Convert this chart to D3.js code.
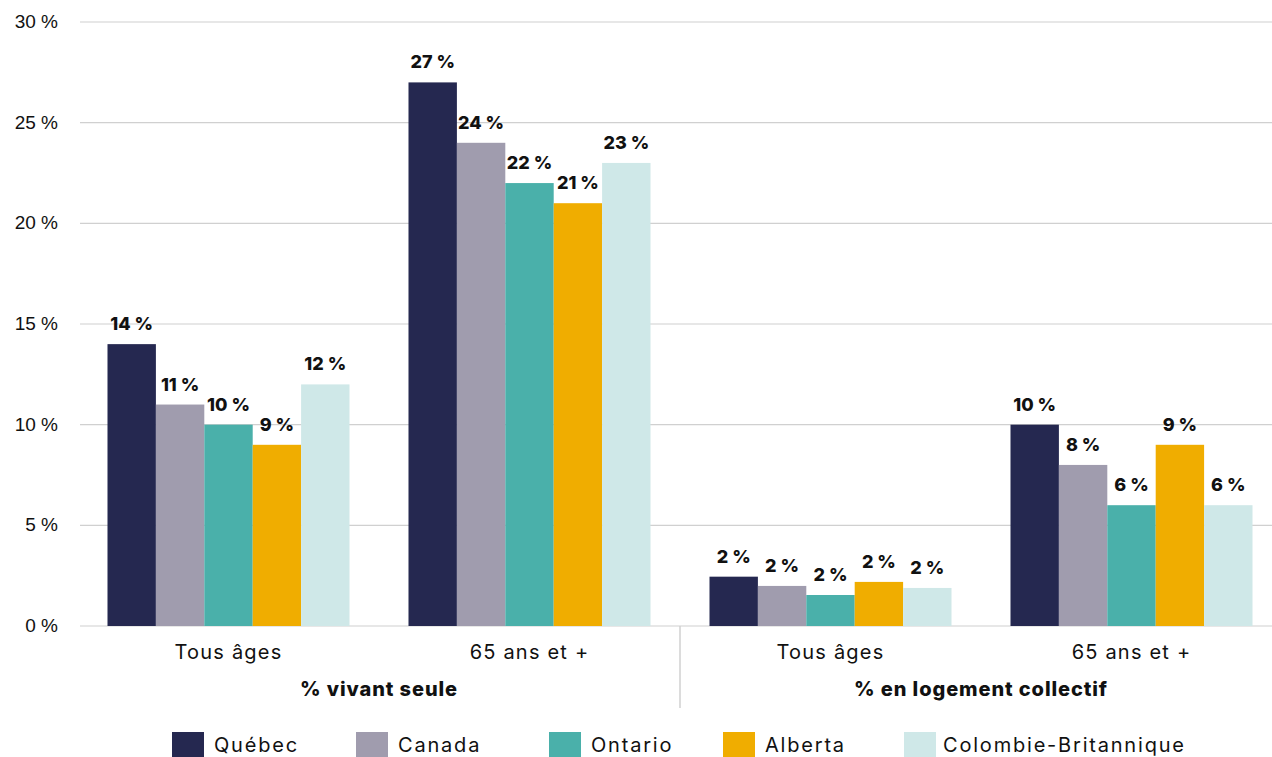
<!DOCTYPE html>
<html><head><meta charset="utf-8">
<script src="https://cdn.jsdelivr.net/npm/d3@7"></script>
<style>body{margin:0;background:#fff}svg{display:block;font-family:Inter,"Open Sans",sans-serif}</style>
</head><body><svg id="c" width="1272" height="757"></svg>
<script>
const groups = ["% vivant seule", "% en logement collectif"];
const categories = ["Tous âges", "65 ans et +", "Tous âges", "65 ans et +"];
const series = ["Québec", "Canada", "Ontario", "Alberta", "Colombie-Britannique"];
const colors = ["#252850", "#a09cae", "#4ab0aa", "#f0ad00", "#cfe8e8"];
const quebec = [14, 27, 2.45, 10];
const canada = [11, 24, 1.99, 8];
const ontario = [10, 22, 1.54, 6];
const alberta = [9, 21, 2.19, 9];
const colombieBritannique = [12, 23, 1.89, 6];
const labels = [["14 %","27 %","2 %","10 %"],["11 %","24 %","2 %","8 %"],["10 %","22 %","2 %","6 %"],["9 %","21 %","2 %","9 %"],["12 %","23 %","2 %","6 %"]];
const yTicks = [0, 5, 10, 15, 20, 25, 30];

const values = [quebec, canada, ontario, alberta, colombieBritannique];
const svg = d3.select("#c");
const y = d3.scaleLinear().domain([0, 30]).range([626, 22]);
const x0 = d3.scaleBand().domain(d3.range(categories.length)).range([78, 1282]).paddingInner(0.196).paddingOuter(0.098);
const x1 = d3.scaleBand().domain(d3.range(series.length)).range([0, x0.bandwidth()]);

// grid
svg.append("g").selectAll("line").data(yTicks).join("line")
  .attr("x1", 80).attr("x2", 1272).attr("y1", d => y(d)).attr("y2", d => y(d))
  .attr("stroke", "#d0d0d0").attr("stroke-width", 1.2);
svg.append("g").selectAll("text").data(yTicks).join("text")
  .attr("x", 58).attr("y", d => y(d) + 6).attr("text-anchor", "end")
  .attr("font-family", "'Liberation Sans', Arial, sans-serif")
  .attr("font-size", 19).attr("fill", "#111").text(d => d + " %");

// bars
series.forEach((s, si) => {
  const g = svg.append("g");
  g.selectAll("rect").data(values[si]).join("rect")
    .attr("x", (d, i) => x0(i) + x1(si)).attr("width", x1.bandwidth())
    .attr("y", d => y(d)).attr("height", d => y(0) - y(d)).attr("fill", colors[si]);
  g.selectAll("text").data(values[si]).join("text")
    .attr("x", (d, i) => x0(i) + x1(si) + x1.bandwidth() / 2)
    .attr("y", d => y(d) - 14).attr("text-anchor", "middle")
    .attr("font-size", 18).attr("font-weight", 800).attr("fill", "#111")
    .text((d, i) => labels[si][i]);
});

// category labels
svg.append("g").selectAll("text").data(categories).join("text")
  .attr("x", (d, i) => x0(i) + x0.bandwidth() / 2).attr("y", 659).attr("text-anchor", "middle")
  .attr("font-size", 20).attr("letter-spacing", 1.2).attr("fill", "#111").text(d => d);
svg.append("g").selectAll("text").data(groups).join("text")
  .attr("x", (d, i) => (x0(i * 2) + x0(i * 2 + 1) + x0.bandwidth()) / 2).attr("y", 696).attr("text-anchor", "middle")
  .attr("font-size", 20).attr("letter-spacing", 0.9).attr("font-weight", 800).attr("fill", "#111").text(d => d);
// separator
const sepX = (x0(1) + x0.bandwidth() + x0(2)) / 2;
svg.append("line").attr("x1", sepX).attr("x2", sepX).attr("y1", 626).attr("y2", 708)
  .attr("stroke", "#d0d0d0").attr("stroke-width", 1.5);

// legend
const legendX = [172, 356, 549, 723, 904];
const lg = svg.append("g").selectAll("g").data(series).join("g")
  .attr("transform", (d, i) => `translate(${legendX[i]},732)`);
lg.append("rect").attr("width", 32).attr("height", 26).attr("fill", (d, i) => colors[i]);
lg.append("text").attr("x", (d, i) => i === 4 ? 39 : 42).attr("y", 20).attr("font-size", 20).attr("letter-spacing", 1.8).attr("fill", "#111").text(d => d);
</script></body></html>
